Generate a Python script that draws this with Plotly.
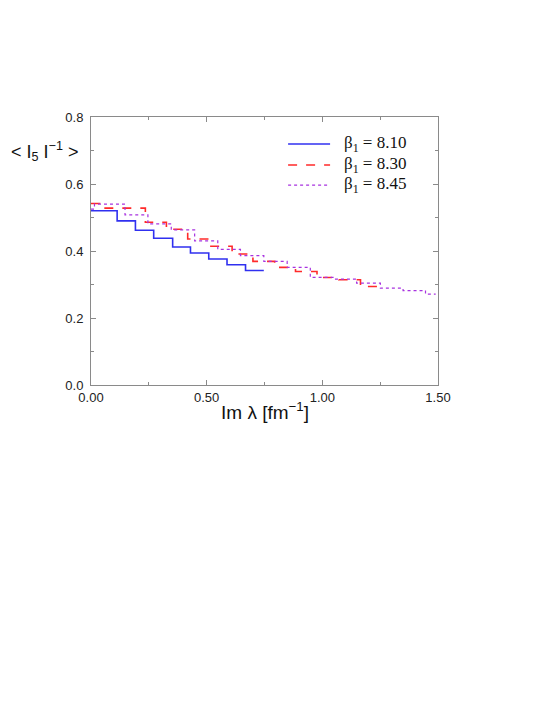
import plotly.graph_objects as go

# bin edges (Im lambda, fm^-1) and step heights
edges_810 = [0.0, 0.113, 0.192, 0.271, 0.353, 0.430, 0.509, 0.588, 0.668, 0.747]
vals_810 = [0.520, 0.490, 0.462, 0.438, 0.412, 0.394, 0.376, 0.359, 0.342]

edges_830 = [0.0, 0.037, 0.235, 0.326, 0.418, 0.509, 0.610, 0.700, 0.794,
             0.884, 0.977, 1.071, 1.165, 1.260]
vals_830 = [0.542, 0.528, 0.486, 0.465, 0.436, 0.414, 0.391, 0.369, 0.351,
            0.339, 0.321, 0.314, 0.294]

edges_845 = [0.0, 0.015, 0.147, 0.246, 0.347, 0.448, 0.548, 0.646, 0.747,
             0.848, 0.948, 1.049, 1.148, 1.251, 1.349, 1.446, 1.490]
vals_845 = [0.525, 0.540, 0.508, 0.481, 0.463, 0.430, 0.405, 0.386, 0.369,
            0.351, 0.321, 0.316, 0.304, 0.289, 0.282, 0.271]

x_ticks = [0.0, 0.5, 1.0, 1.5]
x_ticklabels = ["0.00", "0.50", "1.00", "1.50"]
y_ticks = [0.0, 0.2, 0.4, 0.6, 0.8]
y_ticklabels = ["0.0", "0.2", "0.4", "0.6", "0.8"]

SERIES = [
    (edges_810, vals_810, "β<sub>1</sub> = 8.10", dict(color="#3030f0", width=1.6, dash="solid")),
    (edges_830, vals_830, "β<sub>1</sub> = 8.30", dict(color="#ff2a2a", width=1.6, dash="dash")),
    (edges_845, vals_845, "β<sub>1</sub> = 8.45", dict(color="#a833e0", width=1.2, dash="dot")),
]
SANS = "Liberation Sans, Arial, sans-serif"
SERIF = "Liberation Serif, Times New Roman, serif"
AXIS = "#8a8a8a"

fig = go.Figure()
for edges, vals, name, line in SERIES:
    fig.add_trace(go.Scatter(x=edges, y=vals + [vals[-1]], mode="lines",
                             line_shape="hv", line=line, name=name, showlegend=False))

# hand-drawn key (plotly's legend rows are too tall for the original's spacing)
key_y = [0.899, 0.821, 0.746]
for (_, _, name, line), ky in zip(SERIES, key_y):
    fig.add_shape(type="line", xref="paper", yref="paper", x0=0.568, x1=0.689,
                  y0=ky, y1=ky, line=line)
    fig.add_annotation(text=name, xref="paper", yref="paper", x=0.724, y=ky,
                       xanchor="left", yanchor="middle", showarrow=False,
                       font=dict(family=SERIF, size=17, color="#111"))

axis_common = dict(showline=True, linecolor=AXIS, linewidth=1, mirror="ticks",
                   ticks="inside", ticklen=5, tickcolor=AXIS, showgrid=False,
                   zeroline=False, tickfont=dict(family=SANS, size=13, color="#222"))
fig.update_xaxes(range=[0, 1.5], tickvals=x_ticks, ticktext=x_ticklabels,
                 minor=dict(tickvals=[0.25, 0.75, 1.25], ticks="inside", ticklen=3,
                            tickcolor=AXIS),
                 **axis_common)
fig.update_yaxes(range=[0, 0.8], tickvals=y_ticks, ticktext=y_ticklabels,
                 minor=dict(tickvals=[0.1, 0.3, 0.5, 0.7], ticks="inside", ticklen=3,
                            tickcolor=AXIS),
                 ticklabelstandoff=4,
                 **axis_common)

# axis titles as annotations so they sit where the original puts them
fig.add_annotation(text="Im λ [fm<sup>−1</sup>]", xref="paper", yref="paper",
                   x=0.5, y=-0.097, xanchor="center", yanchor="middle", showarrow=False,
                   font=dict(family=SANS, size=19, color="#111"))
fig.add_annotation(text="< I<sub>5</sub> I<sup>−1</sup> >", xref="paper", yref="paper",
                   x=-0.236, y=0.87, xanchor="left", yanchor="middle", showarrow=False,
                   font=dict(family=SANS, size=18, color="#111"))

fig.update_layout(
    width=545, height=705, paper_bgcolor="white", plot_bgcolor="white",
    margin=dict(l=83, r=115, t=109, b=328), showlegend=False,
)

fig.write_html("out.html")
